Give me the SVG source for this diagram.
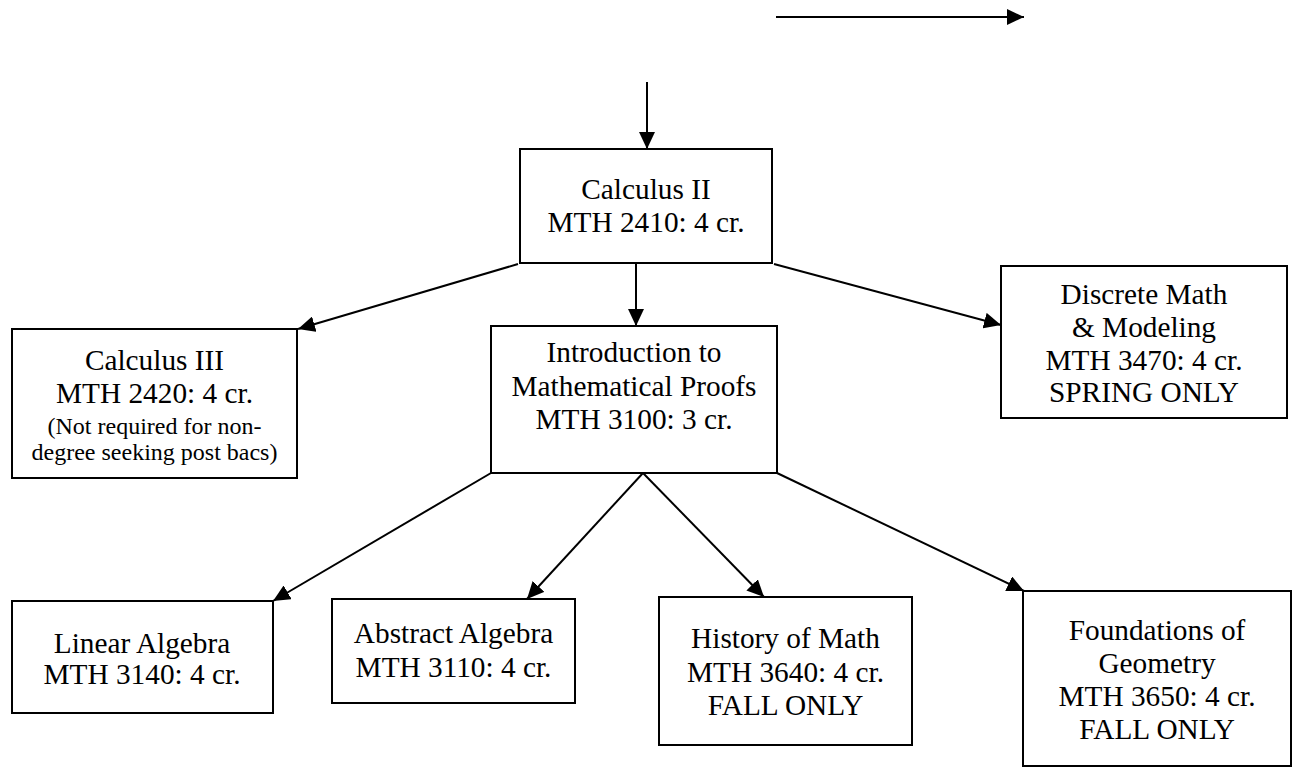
<svg xmlns="http://www.w3.org/2000/svg" width="1293" height="768" viewBox="0 0 1293 768">
<style>
.box{fill:#fff;stroke:#000;stroke-width:2}
.t{font-family:"Liberation Serif","Times New Roman",serif;font-size:29.3px;fill:#000;text-anchor:middle}
.s{font-size:24px}
.c{stroke:#000;stroke-width:2;fill:none;marker-end:url(#ah)}
</style>
<defs>
<marker id="ah" markerUnits="userSpaceOnUse" markerWidth="18" markerHeight="16" viewBox="0 0 18 16" refX="17" refY="8" orient="auto">
<path d="M0,0 L17,8 L0,16 Z" fill="#000"/>
</marker>
</defs>
<rect width="1293" height="768" fill="#fff"/>
<g id="connectors">
<line class="c" x1="776" y1="17" x2="1024" y2="17"/>
<line class="c" x1="647" y1="82" x2="647" y2="149"/>
<line class="c" x1="518" y1="264" x2="298" y2="329"/>
<line class="c" x1="636" y1="263" x2="636" y2="326"/>
<line class="c" x1="774" y1="264" x2="1001" y2="325"/>
<line class="c" x1="491" y1="473" x2="273" y2="601"/>
<line class="c" x1="643" y1="473" x2="527" y2="599"/>
<line class="c" x1="643" y1="473" x2="764" y2="597"/>
<line class="c" x1="777" y1="473" x2="1024" y2="591"/>
</g>
<g id="calc2">
<rect class="box" x="520" y="149" width="252" height="114"/>
<text class="t" x="646" y="199">Calculus II</text>
<text class="t" x="646" y="232">MTH 2410: 4 cr.</text>
</g>
<g id="calc3">
<rect class="box" x="12" y="329" width="285" height="149"/>
<text class="t" x="154.5" y="370">Calculus III</text>
<text class="t" x="154.5" y="403">MTH 2420: 4 cr.</text>
<text class="t s" x="154.5" y="434">(Not required for non-</text>
<text class="t s" x="154.5" y="460">degree seeking post bacs)</text>
</g>
<g id="intro">
<rect class="box" x="491" y="326" width="286" height="147"/>
<text class="t" x="634" y="362">Introduction to</text>
<text class="t" x="634" y="396">Mathematical Proofs</text>
<text class="t" x="634" y="429">MTH 3100: 3 cr.</text>
</g>
<g id="discrete">
<rect class="box" x="1001" y="266" width="286" height="152"/>
<text class="t" x="1144" y="304">Discrete Math</text>
<text class="t" x="1144" y="337">&amp; Modeling</text>
<text class="t" x="1144" y="370">MTH 3470: 4 cr.</text>
<text class="t" x="1144" y="402">SPRING ONLY</text>
</g>
<g id="linear">
<rect class="box" x="12" y="601" width="261" height="112"/>
<text class="t" x="142" y="653">Linear Algebra</text>
<text class="t" x="142" y="684">MTH 3140: 4 cr.</text>
</g>
<g id="abstract">
<rect class="box" x="332" y="599" width="243" height="104"/>
<text class="t" x="453.5" y="643">Abstract Algebra</text>
<text class="t" x="453.5" y="677">MTH 3110: 4 cr.</text>
</g>
<g id="history">
<rect class="box" x="659" y="597" width="253" height="148"/>
<text class="t" x="785.5" y="648">History of Math</text>
<text class="t" x="785.5" y="682">MTH 3640: 4 cr.</text>
<text class="t" x="785.5" y="715">FALL ONLY</text>
</g>
<g id="foundations">
<rect class="box" x="1023" y="591" width="268" height="175"/>
<text class="t" x="1157" y="640">Foundations of</text>
<text class="t" x="1157" y="673">Geometry</text>
<text class="t" x="1157" y="706">MTH 3650: 4 cr.</text>
<text class="t" x="1157" y="739">FALL ONLY</text>
</g>
</svg>
